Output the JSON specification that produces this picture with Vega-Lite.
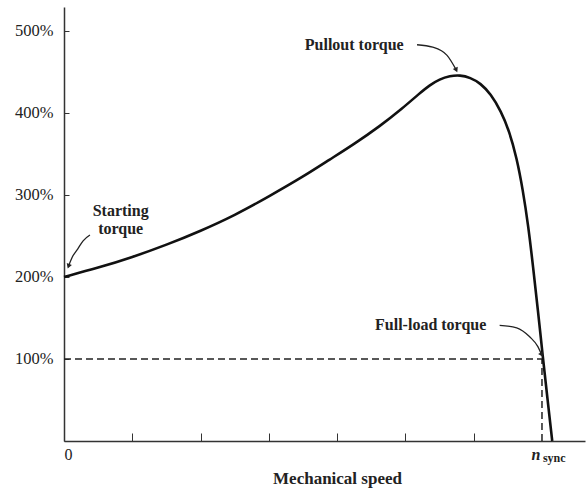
{
  "$schema": "https://vega.github.io/schema/vega-lite/v6.json",
  "width": 521,
  "height": 434,
  "autosize": {"type": "none"},
  "padding": {"left": 64, "top": 7, "right": 1, "bottom": 48},
  "background": "white",
  "config": {"view": {"stroke": null}, "font": "Liberation Serif"},
  "datasets": {
    "curve": [
      {"speed": 0, "torque": 200},
      {"speed": 0.5, "torque": 211},
      {"speed": 1.0, "torque": 224},
      {"speed": 1.5, "torque": 239},
      {"speed": 2.0, "torque": 256},
      {"speed": 2.5, "torque": 275},
      {"speed": 3.0, "torque": 298},
      {"speed": 3.5, "torque": 322},
      {"speed": 3.89, "torque": 343},
      {"speed": 4.25, "torque": 362},
      {"speed": 4.63, "torque": 384},
      {"speed": 4.95, "torque": 405},
      {"speed": 5.21, "torque": 424},
      {"speed": 5.36, "torque": 434},
      {"speed": 5.5, "torque": 441},
      {"speed": 5.65, "torque": 445},
      {"speed": 5.8, "torque": 446},
      {"speed": 5.95, "torque": 443},
      {"speed": 6.1, "torque": 436},
      {"speed": 6.25, "torque": 423},
      {"speed": 6.4, "torque": 402},
      {"speed": 6.52, "torque": 378},
      {"speed": 6.63, "torque": 345},
      {"speed": 6.72, "torque": 306},
      {"speed": 6.8, "torque": 262},
      {"speed": 6.87, "torque": 212},
      {"speed": 6.94, "torque": 160},
      {"speed": 7.01, "torque": 104},
      {"speed": 7.08, "torque": 52},
      {"speed": 7.15, "torque": 0}
    ],
    "arrows": [
      {"arrow": "start", "order": 1, "speed": 0.38, "torque": 251},
      {"arrow": "start", "order": 2, "speed": 0.28, "torque": 244},
      {"arrow": "start", "order": 3, "speed": 0.2, "torque": 234},
      {"arrow": "start", "order": 4, "speed": 0.12, "torque": 224},
      {"arrow": "start", "order": 5, "speed": 0.07, "torque": 214},
      {"arrow": "pullout", "order": 1, "speed": 5.17, "torque": 483},
      {"arrow": "pullout", "order": 2, "speed": 5.4, "torque": 480},
      {"arrow": "pullout", "order": 3, "speed": 5.61, "torque": 470},
      {"arrow": "pullout", "order": 4, "speed": 5.74, "torque": 453},
      {"arrow": "full", "order": 1, "speed": 6.38, "torque": 141},
      {"arrow": "full", "order": 2, "speed": 6.63, "torque": 138},
      {"arrow": "full", "order": 3, "speed": 6.82, "torque": 127},
      {"arrow": "full", "order": 4, "speed": 6.94, "torque": 115},
      {"arrow": "full", "order": 5, "speed": 6.99, "torque": 106}
    ],
    "labels": [
      {"text": "Pullout torque", "speed": 4.25, "torque": 483},
      {"text": "Starting", "speed": 0.83, "torque": 280},
      {"text": "torque", "speed": 0.83, "torque": 258},
      {"text": "Full-load torque", "speed": 5.37, "torque": 141}
    ],
    "guides": [
      {"speed": 0, "speed2": 7.0, "torque": 100, "torque2": 100},
      {"speed": 7.0, "speed2": 7.0, "torque": 0, "torque2": 100}
    ],
    "sync": [
      {"part": "n", "speed": 6.91, "torque": -17},
      {"part": "sync", "speed": 7.18, "torque": -21}
    ]
  },
  "encoding": {
    "x": {
      "field": "speed", "type": "quantitative",
      "scale": {"domain": [0, 7.63], "nice": false, "zero": false},
      "axis": {
        "values": [0, 1, 2, 3, 4, 5, 6],
        "labelExpr": "datum.value == 0 ? '0' : ''",
        "title": "Mechanical speed",
        "titleFont": "Liberation Serif", "titleFontSize": 17, "titleFontWeight": "bold", "titleColor": "#222",
        "titleX": 273, "titlePadding": 8,
        "labelFont": "Liberation Serif", "labelFontSize": 16, "labelColor": "#222",
        "tickSize": -8, "labelPadding": 13, "tickColor": "#333", "tickWidth": 1,
        "domainColor": "#333", "domainWidth": 1.5, "grid": false
      }
    },
    "y": {
      "field": "torque", "type": "quantitative",
      "scale": {"domain": [0, 529], "nice": false, "zero": false},
      "axis": {
        "values": [100, 200, 300, 400, 500],
        "labelExpr": "datum.value + '%'",
        "title": null,
        "labelFont": "Liberation Serif", "labelFontSize": 16.5, "labelColor": "#222",
        "tickSize": -5, "labelPadding": 16, "tickColor": "#333", "tickWidth": 1,
        "domainColor": "#333", "domainWidth": 1.5, "grid": false
      }
    }
  },
  "layer": [
    {
      "data": {"name": "guides"},
      "mark": {"type": "rule", "strokeDash": [7, 4], "strokeWidth": 1.5, "color": "#222"},
      "encoding": {"x2": {"field": "speed2"}, "y2": {"field": "torque2"}}
    },
    {
      "data": {"name": "curve"},
      "mark": {"type": "line", "interpolate": "basis", "strokeWidth": 2.6, "color": "#111"}
    },
    {
      "data": {"name": "arrows"},
      "mark": {"type": "line", "interpolate": "monotone", "strokeWidth": 1.3, "color": "#222"},
      "encoding": {"detail": {"field": "arrow"}, "order": {"field": "order"}}
    },
    {
      "data": {"name": "arrows"},
      "transform": [{"filter": "datum.arrow == 'start' && datum.order == 5"}],
      "mark": {"type": "point", "shape": "triangle", "angle": 200, "size": 30, "filled": true, "color": "#222", "opacity": 1}
    },
    {
      "data": {"name": "arrows"},
      "transform": [{"filter": "datum.arrow == 'pullout' && datum.order == 4"}],
      "mark": {"type": "point", "shape": "triangle", "angle": 155, "size": 30, "filled": true, "color": "#222", "opacity": 1}
    },
    {
      "data": {"name": "arrows"},
      "transform": [{"filter": "datum.arrow == 'full' && datum.order == 5"}],
      "mark": {"type": "point", "shape": "triangle", "angle": 150, "size": 30, "filled": true, "color": "#222", "opacity": 1}
    },
    {
      "data": {"name": "labels"},
      "mark": {"type": "text", "font": "Liberation Serif", "fontSize": 16, "fontWeight": "bold", "color": "#222", "align": "center", "baseline": "middle"},
      "encoding": {"text": {"field": "text"}}
    },
    {
      "data": {"name": "sync"},
      "transform": [{"filter": "datum.part == 'n'"}],
      "mark": {"type": "text", "font": "Liberation Serif", "fontSize": 16, "fontStyle": "italic", "fontWeight": "bold", "color": "#222", "align": "center", "baseline": "middle"},
      "encoding": {"text": {"field": "part"}}
    },
    {
      "data": {"name": "sync"},
      "transform": [{"filter": "datum.part == 'sync'"}],
      "mark": {"type": "text", "font": "Liberation Serif", "fontSize": 12, "fontWeight": "bold", "color": "#222", "align": "center", "baseline": "middle"},
      "encoding": {"text": {"field": "part"}}
    }
  ]
}
